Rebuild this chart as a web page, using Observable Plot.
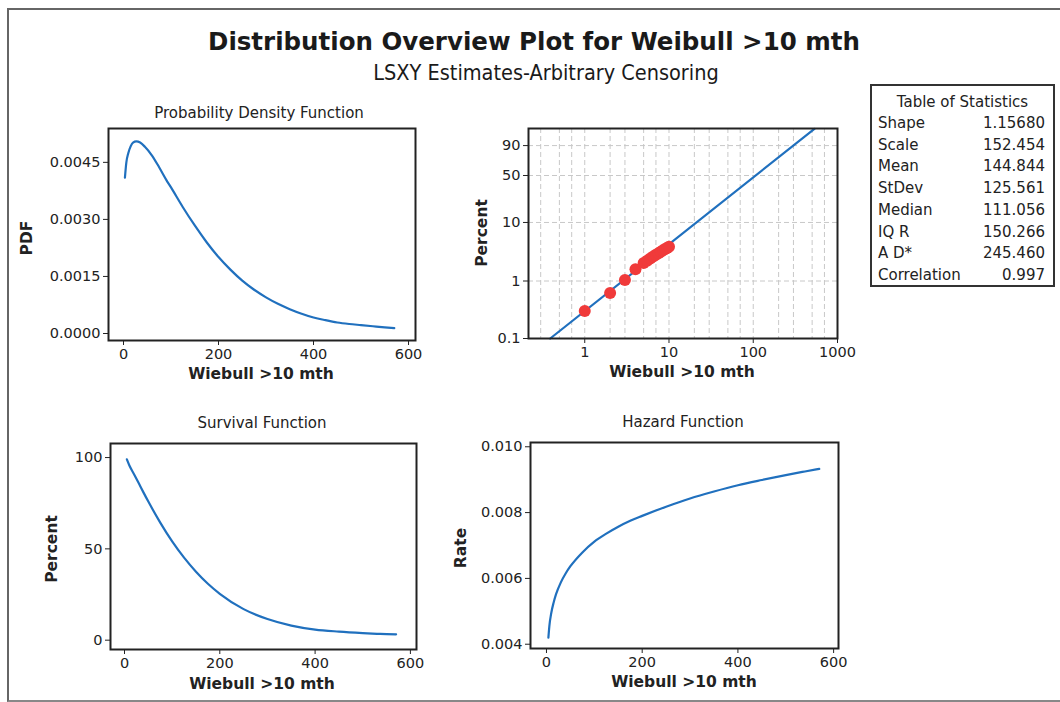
<!DOCTYPE html>
<html>
<head>
<meta charset="utf-8">
<script src="https://cdn.jsdelivr.net/npm/d3@7"></script>
<script src="https://cdn.jsdelivr.net/npm/@observablehq/plot@0.6"></script>
<style>
  html, body { margin: 0; padding: 0; background: #fff; }
  #root { position: relative; width: 1060px; height: 702px; overflow: hidden; background: #fff; font-family: "DejaVu Sans", sans-serif; color: #222; }
  .t { position: absolute; white-space: nowrap; transform: translate(-50%, -50%); line-height: 1; }
  .panel { position: absolute; }
  #frame { position: absolute; left: 7px; top: 8px; width: 1070px; height: 690px; border-top: 2px solid #666; border-left: 2px solid #666; border-bottom: 2px solid #888; }
  #stats { position: absolute; left: 870px; top: 84px; width: 181px; height: 199px; border: 2px solid #333; font-size: 15px; }
  #stats .row { position: absolute; left: 6px; right: 8px; height: 18px; }
  #stats .row span.v { position: absolute; right: 0; }
</style>
</head>
<body>
<div id="root">
  <div id="frame"></div>
</div>
<script>
// ---------- data ----------
const blue = "#2070be";

// Probability density function
const pdfX = [3, 6, 10, 15, 20, 27, 35, 45, 60, 75, 90, 100, 125, 150, 175, 200, 225, 250, 275, 300, 325, 350, 375, 400, 425, 450, 475, 500, 525, 550, 570];
const pdfY = [0.00410, 0.00450, 0.00474, 0.00492, 0.00502, 0.00505, 0.00502, 0.00491, 0.00468, 0.00437, 0.00404, 0.00384, 0.00332, 0.00284, 0.00240, 0.00201, 0.00168, 0.00139, 0.00115, 0.00095, 0.00078, 0.00064, 0.00052, 0.00042, 0.00035, 0.00029, 0.00025, 0.00022, 0.00019, 0.00016, 0.00014];

// Survival function (percent)
const survX = [5, 10, 20, 30, 40, 50, 75, 100, 125, 150, 175, 200, 250, 300, 350, 400, 450, 500, 530, 550, 570];
const survY = [99.0, 95.8, 90.9, 85.9, 80.8, 75.9, 64.4, 54.1, 45.2, 37.5, 30.9, 25.4, 17.0, 11.6, 8.0, 5.8, 4.7, 3.9, 3.5, 3.3, 3.2];

// Hazard function (rate)
const hazX = [4, 6, 10, 15, 20, 30, 40, 50, 75, 100, 125, 150, 175, 200, 250, 300, 350, 400, 450, 500, 540, 570];
const hazY = [0.00420, 0.00455, 0.00495, 0.00527, 0.00552, 0.00588, 0.00615, 0.00637, 0.00679, 0.00712, 0.00736, 0.00757, 0.00775, 0.00790, 0.00818, 0.00843, 0.00864, 0.00883, 0.00899, 0.00914, 0.00925, 0.00933];

// Probability plot: observed points (time, percent) and fitted line ends
const probX = [1, 2, 3, 4, 5, 5.5, 6, 6.5, 7, 7.5, 8, 8.5, 9, 9.5, 10];
const probP = [0.30, 0.62, 1.04, 1.60, 2.04, 2.25, 2.45, 2.65, 2.85, 3.02, 3.20, 3.38, 3.55, 3.72, 3.90];
const fitX = [0.389, 532];
const fitP = [0.1, 98.9];
const probYTicks = [0.1, 1, 10, 50, 90];
const probXTicks = [1, 10, 100, 1000];
const probGridX = [0.3, 0.5, 0.7, 1, 2, 3, 5, 7, 10, 20, 30, 50, 70, 100, 200, 300, 500, 700];
const probGridY = [1, 10, 50, 90];

// Table of statistics
const statNames = ["Shape", "Scale", "Mean", "StDev", "Median", "IQ R", "A D*", "Correlation"];
const statValues = ["1.15680", "152.454", "144.844", "125.561", "111.056", "150.266", "245.460", "0.997"];

// Axis tick labels
const timeTicks = [0, 200, 400, 600];
const pdfTicks = [0, 0.0015, 0.0030, 0.0045];
const survTicks = [0, 50, 100];
const hazTicks = [0.004, 0.006, 0.008, 0.010];

// ---------- build ----------
const root = document.getElementById("root");
function txt(s, cx, cy, css, rot) {
  const d = document.createElement("div");
  d.className = "t";
  d.textContent = s;
  d.style.left = cx + "px";
  d.style.top = cy + "px";
  if (rot) d.style.transform = "translate(-50%, -50%) rotate(-90deg)";
  Object.assign(d.style, css || {});
  root.appendChild(d);
}
function place(svg, left, top) {
  const w = document.createElement("div");
  w.className = "panel";
  w.style.left = left + "px";
  w.style.top = top + "px";
  w.appendChild(svg);
  root.appendChild(w);
}
const style = { fontFamily: "DejaVu Sans", fontSize: "14.5px", color: "#222", background: "transparent", overflow: "visible" };
const frameMark = Plot.frame({ stroke: "#222", strokeWidth: 2 });

const pdf = pdfX.map((x, i) => ({ x, y: pdfY[i] }));
const surv = survX.map((x, i) => ({ x, y: survY[i] }));
const haz = hazX.map((x, i) => ({ x, y: hazY[i] }));
const probPts = probX.map((x, i) => ({ x, p: probP[i] }));
const fit = fitX.map((x, i) => ({ x, p: fitP[i] }));
const wb = p => Math.log(-Math.log(1 - p / 100)); // Weibull probability paper

// PDF
place(Plot.plot({
  width: 440, height: 290, marginLeft: 108, marginRight: 25, marginTop: 33, marginBottom: 45,
  style,
  x: { domain: [-31.6, 614.7], ticks: timeTicks, tickSize: 5, tickPadding: 3, label: null },
  y: { domain: [-0.000184, 0.00539], ticks: pdfTicks, tickFormat: d => d.toFixed(4), tickSize: 5, tickPadding: 3, label: null },
  marks: [
    Plot.line(pdf, { x: "x", y: "y", stroke: blue, strokeWidth: 2.2, curve: "monotone-x" }),
    frameMark
  ]
}), 0, 95);

// Probability plot
place(Plot.plot({
  width: 420, height: 290, marginLeft: 88, marginRight: 23, marginTop: 33, marginBottom: 47,
  style,
  x: { type: "log", domain: [0.215, 1000], ticks: probXTicks, tickFormat: d => String(d), tickSize: 5, tickPadding: 3, label: null },
  y: { domain: [wb(0.1), 1.52], ticks: probYTicks.map(wb), tickFormat: v => String(probYTicks.find(p => Math.abs(wb(p) - v) < 1e-9)), tickSize: 5, tickPadding: 3, label: null },
  marks: [
    Plot.ruleX(probGridX, { stroke: "#c8c8c8", strokeDasharray: "5,3", strokeWidth: 1 }),
    Plot.ruleY(probGridY.map(wb), { stroke: "#c8c8c8", strokeDasharray: "5,3", strokeWidth: 1 }),
    Plot.line(fit, { x: "x", y: d => wb(d.p), stroke: blue, strokeWidth: 2.2 }),
    Plot.dot(probPts, { x: "x", y: d => wb(d.p), r: 6, fill: "#f03a3a", stroke: "none" }),
    frameMark
  ]
}), 440, 95);

// Survival
place(Plot.plot({
  width: 440, height: 302, marginLeft: 110, marginRight: 24, marginTop: 43, marginBottom: 53,
  style,
  x: { domain: [-29.4, 612.8], ticks: timeTicks, tickSize: 5, tickPadding: 3, label: null },
  y: { domain: [-5.1, 107.7], ticks: survTicks, tickSize: 5, tickPadding: 3, label: null },
  marks: [
    Plot.line(surv, { x: "x", y: "y", stroke: blue, strokeWidth: 2.2, curve: "monotone-x" }),
    frameMark
  ]
}), 0, 400);

// Hazard
place(Plot.plot({
  width: 420, height: 302, marginLeft: 90, marginRight: 22, marginTop: 42, marginBottom: 54,
  style,
  x: { domain: [-33.4, 610.2], ticks: timeTicks, tickSize: 5, tickPadding: 3, label: null },
  y: { domain: [0.00387, 0.01013], ticks: hazTicks, tickFormat: d => d.toFixed(3), tickSize: 5, tickPadding: 3, label: null },
  marks: [
    Plot.line(haz, { x: "x", y: "y", stroke: blue, strokeWidth: 2.2, curve: "monotone-x" }),
    frameMark
  ]
}), 440, 400);

// Titles and labels
txt("Distribution Overview Plot for Weibull >10 mth", 534, 42, { fontSize: "24.5px", fontWeight: "bold", color: "#1a1a1a" });
txt("LSXY Estimates-Arbitrary Censoring", 546, 73, { fontSize: "21.5px", fontFamily: "DejaVu Sans Condensed", color: "#1a1a1a" });

const panelTitle = { fontSize: "15px" };
const axisLab = { fontSize: "15.5px", fontWeight: "bold" };
txt("Probability Density Function", 259, 113, panelTitle);
txt("Survival Function", 262, 423, panelTitle);
txt("Hazard Function", 683, 422, panelTitle);

txt("Wiebull >10 mth", 261, 375, axisLab);
txt("Wiebull >10 mth", 682, 373, axisLab);
txt("Wiebull >10 mth", 262, 685, axisLab);
txt("Wiebull >10 mth", 684, 683, axisLab);

txt("PDF", 28, 238, axisLab, true);
txt("Percent", 483, 233, axisLab, true);
txt("Percent", 53, 549, axisLab, true);
txt("Rate", 462, 548, axisLab, true);

// Table of statistics
const box = document.createElement("div");
box.id = "stats";
const head = document.createElement("div");
head.style.cssText = "position:absolute;left:0;right:0;top:7px;text-align:center;";
head.textContent = "Table of Statistics";
box.appendChild(head);
statNames.forEach((n, i) => {
  const r = document.createElement("div");
  r.className = "row";
  r.style.top = (28 + i * 21.7) + "px";
  const a = document.createElement("span");
  a.textContent = n;
  const b = document.createElement("span");
  b.className = "v";
  b.textContent = statValues[i];
  r.appendChild(a); r.appendChild(b);
  box.appendChild(r);
});
root.appendChild(box);
</script>
</body>
</html>
